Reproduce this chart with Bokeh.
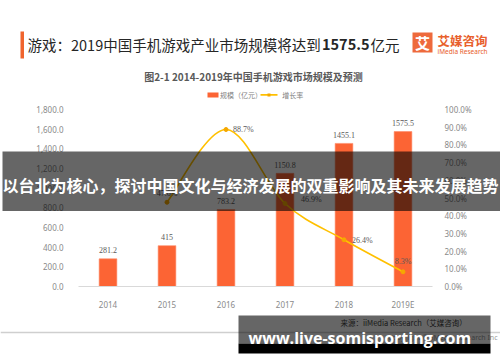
from bokeh.plotting import figure
from bokeh.models import (Range1d, LinearAxis, FixedTicker, NumeralTickFormatter,
                          BoxAnnotation, Label, ColumnDataSource)
from bokeh.embed import file_html
from bokeh.resources import INLINE

# ---- data ----
years = ["2014", "2015", "2016", "2017", "2018", "2019E"]
market_size = [281.2, 415, 783.2, 1150.8, 1455.1, 1575.5]          # 亿元
growth_years = ["2015", "2016", "2017", "2018", "2019E"]
growth_rate = [47.6, 88.7, 46.9, 26.4, 8.3]                          # %
y_ticks = [0, 200, 400, 600, 800, 1000, 1200, 1400, 1600, 1800]
pct_ticks = [0.0, 0.1, 0.2, 0.3, 0.4, 0.5, 0.6, 0.7, 0.8, 0.9, 1.0]
y_max = 1800
pct_max = 1.0

header_a = "游戏：2019中国手机游戏产业市场规模将达到"
header_b = "1575.5"
header_c = "亿元"
chart_title = "图2-1 2014-2019年中国手机游戏市场规模及预测"
legend_bar = "规模（亿元）"
legend_line = "增长率"
source_text = "来源：iiMedia Research（艾媒咨询）"
copyright_text = "Copyright © iiMedia Research Inc"
banner_text = "以台北为核心，探讨中国文化与经济发展的双重影响及其未来发展趋势"
watermark = "www.live-somisporting.com"

# ---- layout / styles ----
W, H = 500, 362
PL, PR, PT, PB = 78, 432, 109, 286       # plot area in pixels
ORANGE = "#FC6434"
YELLOW = "#FFC000"
CJK = "Noto Sans CJK SC"
g_align = ["center", "left", "left", "left", "center"]
g_xoff = [0, 7, 16, 8, 0]
g_yoff = [-9, 0, -4, 1, -10]

ncat = len(years)
xu = (PR - PL) / ncat
xs, xe = -0.5 - PL / xu, ncat - 0.5 + (W - PR) / xu
yu = (PB - PT) / y_max
ys, ye = -(H - PB) / yu, y_max + PT / yu
pu = (PB - PT) / pct_max
ps, pe = -(H - PB) / pu, pct_max + PT / pu

p = figure(width=W, height=H, x_range=Range1d(xs, xe), y_range=Range1d(ys, ye),
           output_backend="svg", toolbar_location=None,
           min_border=0, min_border_left=0, min_border_right=0,
           min_border_top=0, min_border_bottom=0)
p.outline_line_color = None
p.xgrid.grid_line_color = None
p.ygrid.grid_line_color = None
p.background_fill_color = "white"
p.border_fill_color = "white"
p.extra_y_ranges = {"pct": Range1d(ps, pe)}

# axes (drawn at fixed locations around the plot area)
xpos = list(range(ncat))
xa = p.xaxis[0]
xa.fixed_location = 0
xa.bounds = (-0.5, ncat - 0.5)
xa.ticker = FixedTicker(ticks=xpos)
xa.major_label_overrides = {i: y for i, y in zip(xpos, years)}
xa.axis_line_color = "#d9d9d9"
xa.axis_line_width = 1.2
xa.major_tick_line_color = None
xa.minor_tick_line_color = None
xa.major_label_standoff = 6
xa.major_label_text_font_size = "8px"
xa.major_label_text_color = "#8a8a8a"
xa.major_label_text_font = "Noto Sans"

ya = p.yaxis[0]
ya.fixed_location = -0.5
ya.bounds = (0, y_max)
ya.ticker = FixedTicker(ticks=y_ticks)
ya.formatter = NumeralTickFormatter(format="0,0.0")
ya.axis_line_color = None
ya.major_tick_line_color = None
ya.minor_tick_line_color = None
ya.major_label_standoff = 9
ya.major_label_text_font_size = "8px"
ya.major_label_text_color = "#8a8a8a"
ya.major_label_text_font = "Noto Sans"

ra = LinearAxis(y_range_name="pct", ticker=FixedTicker(ticks=pct_ticks),
                formatter=NumeralTickFormatter(format="0.0%"),
                fixed_location=ncat - 0.5, bounds=(0, pct_max))
ra.axis_line_color = None
ra.major_tick_line_color = None
ra.minor_tick_line_color = None
ra.major_label_standoff = 6
ra.major_label_text_font_size = "8px"
ra.major_label_text_color = "#8a8a8a"
ra.major_label_text_font = "Noto Sans"
p.add_layout(ra, "right")

# bars
bar_src = ColumnDataSource(dict(x=xpos, top=market_size,
                                lab=[f"{v:g}" for v in market_size]))
p.vbar(x="x", top="top", width=0.3, source=bar_src, fill_color=ORANGE,
       line_color="#FF8A66", line_width=0.6)
p.text(x="x", y="top", text="lab", source=bar_src, text_align="center",
       text_baseline="middle", y_offset=-8.5, text_font_size="8px",
       text_color="#595959", text_font="Noto Sans")

# growth line (smoothed through the data points)
gx = [years.index(y) for y in growth_years]
gy = [g / 100 for g in growth_rate]
n = len(gx)
P = list(zip(gx, gy))
ext = [P[0]] + P + [P[-1]]
x0, y0, x1, y1, cx0, cy0, cx1, cy1 = [], [], [], [], [], [], [], []
for i in range(n - 1):
    p0, p1, p2, p3 = ext[i], ext[i + 1], ext[i + 2], ext[i + 3]
    x0.append(p1[0]); y0.append(p1[1]); x1.append(p2[0]); y1.append(p2[1])
    cx0.append(p1[0] + (p2[0] - p0[0]) / 6); cy0.append(p1[1] + (p2[1] - p0[1]) / 6)
    cx1.append(p2[0] - (p3[0] - p1[0]) / 6); cy1.append(p2[1] - (p3[1] - p1[1]) / 6)
p.bezier(x0=x0, y0=y0, x1=x1, y1=y1, cx0=cx0, cy0=cy0, cx1=cx1, cy1=cy1,
         y_range_name="pct", line_color=YELLOW, line_width=1.6)
p.scatter(x=gx, y=gy, size=4, color="#F5A800", y_range_name="pct")
g_src = ColumnDataSource(dict(x=gx, y=gy, lab=[f"{g:.1f}%" for g in growth_rate],
                              al=g_align, xo=g_xoff, yo=g_yoff))
p.text(x="x", y="y", text="lab", source=g_src, text_align="al", x_offset="xo",
       y_offset="yo", text_baseline="middle", text_font_size="8px",
       text_color="#595959", text_font="Noto Sans", y_range_name="pct")


def box(l, t, r, b, color, alpha=1.0):
    p.add_layout(BoxAnnotation(left=l, right=r, top=t, bottom=b,
                               left_units="canvas", right_units="canvas",
                               top_units="canvas", bottom_units="canvas",
                               fill_color=color, fill_alpha=alpha, line_color=None))


def label(x, y, text, size, color, font=CJK, style="normal", align="left", base="middle"):
    p.add_layout(Label(x=x, y=y, x_units="canvas", y_units="canvas", text=text,
                       text_font_size=f"{size}px", text_color=color, text_font=font,
                       text_font_style=style, text_align=align, text_baseline=base))


# header
box(20, 31, 23.5, 58, "#F0642D")
label(27, 44, header_a, 14.5, "#262626")
label(321.5, 44, header_b, 14.5, "#262626", style="bold")
label(370, 44, header_c, 14.5, "#262626")
# logo
box(412, 32, 432, 52, "#EE6A3C")
label(422, 42, "艾", 15, "white", style="bold", align="center")
label(437, 40, "艾媒咨询", 12.5, "#E8602C", style="bold")
label(437, 51, "iMedia Research", 6.5, "#E8602C", font="Noto Sans")

# chart title + legend
label(253, 76, chart_title, 10, "#595959", style="bold", align="center")
box(207, 92, 218, 97, ORANGE)
label(219.5, 94.5, legend_bar, 7, "#7f7f7f")
box(260, 93.6, 277, 95.2, YELLOW)
box(267, 92.9, 270, 95.9, "#F5A800")
label(281.7, 94.5, legend_line, 7, "#7f7f7f")

# footer line / source
box(0, 331.3, 500, 332.8, "#cfcfcf")
label(340, 321.7, source_text, 7.5, "#404040")
label(497, 336.7, copyright_text, 7, "#9a9a9a", font="Noto Sans", align="right")

# overlay banner
box(2, 151, 500, 210.5, "black", 0.6)
label(250, 184, banner_text, 16, "white", style="bold", align="center")

# watermark
box(238, 315, 490, 343, "black", 0.6)
box(238, 343, 490, 353, "black", 1.0)
label(248, 337, watermark, 16, "white", font="Open Sans", style="bold")

open("out.html", "w").write(file_html(p, INLINE))
